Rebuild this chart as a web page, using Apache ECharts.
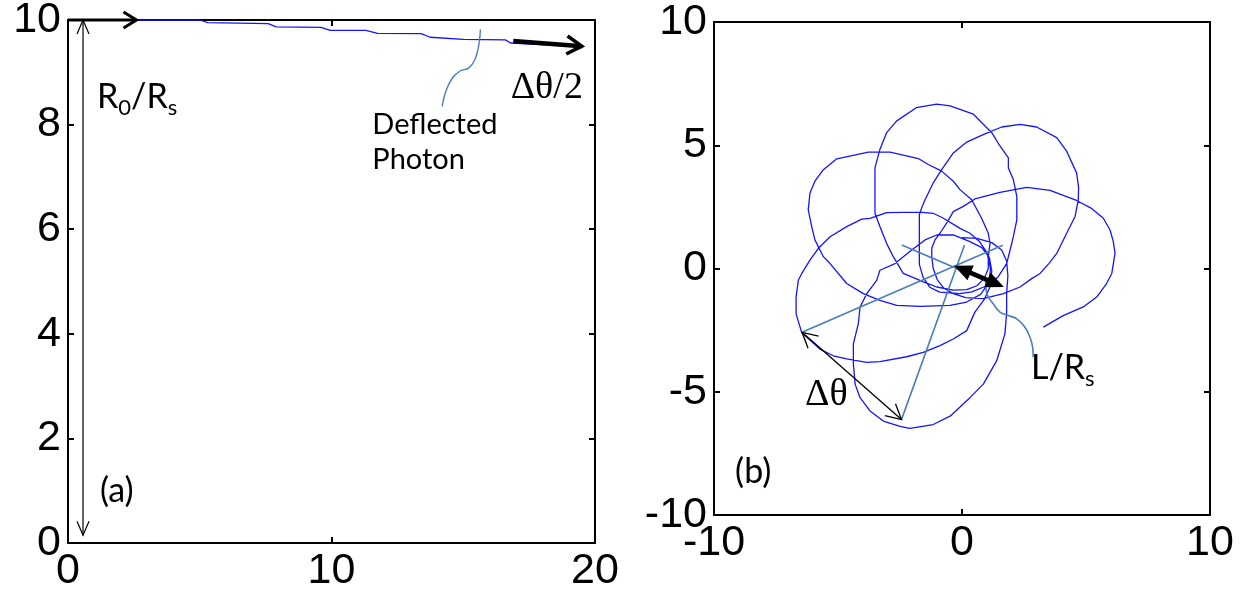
<!DOCTYPE html>
<html><head><meta charset="utf-8">
<script src="https://cdn.jsdelivr.net/npm/echarts@6/dist/echarts.min.js"></script>
<style>html,body{margin:0;padding:0;background:#fff}#c{width:1241px;height:606px}</style>
</head><body><div id="c"></div>
<script>
// ---------- DATA ----------
// Panel (a): tick values
const xTicksA = [0, 10, 20];
const yTicksA = [0, 2, 4, 6, 8, 10];
// Panel (a): deflected photon path
const photonX = [0, 5.0, 5.3, 7.6, 7.9, 9.6, 9.95, 11.3, 11.75, 13.4, 13.75, 15.0, 16.6, 16.8, 18.7];
const photonY = [10, 10, 9.95, 9.93, 9.87, 9.86, 9.80, 9.80, 9.745, 9.74, 9.67, 9.63, 9.62, 9.56, 9.51];
// Panel (a): leader line to "Deflected Photon"
const leaderAX = [15.65, 15.6, 15.45, 15.2, 14.9, 14.6, 14.35, 14.2];
const leaderAY = [9.82, 9.55, 9.25, 9.08, 9.03, 8.9, 8.65, 8.35];
// Panel (a): arrows [x1, y1, x2, y2]
const arrowIncoming = [0, 10, 2.6, 10];
const arrowOutgoing = [16.9, 9.60, 19.5, 9.50];
const arrowR0 = [0.57, 10, 0.57, 0.15];

// Panel (b): tick values
const xTicksB = [-10, 0, 10];
const yTicksB = [-10, -5, 0, 5, 10];
// Panel (b): precessing orbit (x, y) in units of Rs
const orbitPts = [
 [3.28,-2.38],[4.08,-1.91],[4.89,-1.56],[5.43,-1.16],[5.83,-0.61],[6.04,-0.20],[6.17,0.61],[6.10,1.10],[5.97,1.56],[5.70,2.04],[5.20,2.45],[4.62,2.76],[3.55,3.17],[2.61,3.29],[1.53,3.09],[0.52,2.82],[0.05,2.52],[-0.35,2.31],[-0.62,1.84],[-0.89,1.43],[-1.09,1.16],[-1.22,0.82],[-1.22,0.48],[-1.16,0.00],[-1.00,-0.45],[-0.75,-0.78],[-0.35,-1.02],[0.15,-1.18],
 [0.86,-1.22],[1.67,-1.02],[2.34,-0.75],[2.81,-0.41],[3.15,-0.20],[3.50,0.20],[3.82,0.61],[4.22,1.43],[4.56,2.11],[4.69,2.79],[4.70,3.30],[4.62,3.88],[4.22,4.76],[3.82,5.31],[3.01,5.74],[2.34,5.85],[1.60,5.74],[0.90,5.45],[0.19,5.13],[-0.35,4.69],[-0.82,4.01],[-1.16,3.47],[-1.49,2.79],[-1.63,2.45],[-1.72,2.18],[-1.72,1.60],[-1.72,1.02],[-1.72,0.17],[-1.57,-0.36],[-1.30,-0.76],[-0.90,-0.96],[-0.10,-1.02],[0.40,-0.95],[0.95,-0.72],[1.45,-0.35],
 [1.80,0.20],[1.94,0.75],[2.07,1.29],[2.21,1.97],[2.21,2.93],[2.07,3.61],[1.87,4.08],[1.87,4.49],[1.53,4.97],[1.20,5.51],[0.86,5.85],[0.46,6.26],[-0.48,6.60],[-1.02,6.67],[-1.83,6.53],[-2.63,5.99],[-3.04,5.51],[-3.31,4.83],[-3.51,4.08],[-3.51,3.20],[-3.51,2.24],[-3.31,1.70],[-3.04,1.02],[-2.77,0.48],[-2.37,-0.20],[-2.03,-0.34],[-1.56,-0.54],[-1.02,-0.75],[-0.35,-0.88],[0.19,-0.86],[0.60,-0.70],[0.90,-0.40],[1.06,0.00],
 [1.06,0.48],[1.13,1.02],[1.06,1.43],[0.79,2.04],[0.39,2.79],[-0.08,3.20],[-0.35,3.54],[-0.82,3.95],[-1.36,4.22],[-1.76,4.46],[-2.90,4.72],[-3.78,4.72],[-5.05,4.45],[-5.59,4.01],[-5.93,3.54],[-6.13,3.06],[-6.20,2.38],[-6.06,1.70],[-5.93,1.16],[-5.59,0.48],[-5.32,0.20],[-4.65,-0.61],[-3.98,-1.02],[-3.31,-1.29],[-2.63,-1.50],[-1.69,-1.54],[-0.48,-1.50],[0.19,-1.36],[0.75,-1.05],[1.10,-0.55],[1.15,0.00],
 [1.00,0.65],[0.70,1.10],[0.32,1.43],[-0.08,1.63],[-0.75,2.04],[-1.16,2.24],[-1.69,2.29],[-3.04,2.27],[-3.71,2.03],[-4.04,2.00],[-4.65,1.70],[-5.32,1.29],[-5.79,0.82],[-6.13,0.34],[-6.46,-0.20],[-6.60,-0.48],[-6.69,-1.16],[-6.69,-1.84],[-6.46,-2.61],[-5.73,-3.27],[-5.19,-3.54],[-4.65,-3.67],[-3.84,-3.81],[-3.31,-3.78],[-2.23,-3.58],[-1.56,-3.40],[-0.89,-3.13],[-0.35,-2.86],[0.19,-2.52],[0.52,-1.77],[0.90,-1.25],[1.15,-0.70],[1.20,-0.10],[1.10,0.45],[0.80,0.85],[0.32,1.09],
 [-0.35,1.36],[-1.02,1.36],[-1.49,1.16],[-2.03,0.75],[-2.70,0.20],[-3.31,-0.07],[-3.44,-0.48],[-3.84,-1.02],[-4.11,-1.56],[-4.18,-2.24],[-4.38,-3.06],[-4.38,-3.88],[-4.31,-4.69],[-4.11,-5.24],[-3.71,-5.78],[-3.17,-6.19],[-2.50,-6.40],[-2.10,-6.49],[-1.16,-6.33],[-0.48,-5.99],[0.32,-5.24],[0.86,-4.69],[1.40,-3.74],[1.73,-2.65],[1.80,-1.80],[1.80,-1.02],[1.85,-0.30],[1.80,0.30],[1.60,0.75],[1.20,1.05],[0.60,1.22],[0.00,1.25]
];
// Panel (b): construction lines (apsides) and leader
const apsisLine1 = [[-6.45,-2.59],[1.64,0.94]];
const apsisLine2 = [[-2.44,-6.13],[0.10,0.95]];
const apsisLine3 = [[-2.43,0.95],[0.95,-0.50]];
const leaderBX = [0.95, 1.0, 1.26, 1.53, 1.87, 2.21, 2.54, 2.74, 2.85, 2.87];
const leaderBY = [-0.5, -1.02, -1.43, -1.77, -1.91, -2.04, -2.38, -2.79, -3.20, -3.60];
// Panel (b): arrows [x1, y1, x2, y2]
const arrowDTheta = [-6.45, -2.59, -2.44, -6.13];
const arrowL = [-0.32, 0.11, 1.69, -0.75];

// Annotation anchor points (data coords)
const annotA = [
  {at:[1.10, 8.85], text:'{m|R}{s|0}{m|/R}{s|s}', kind:'sans'},
  {at:[16.8, 9.07], text:'{m|Δθ/2}', kind:'serif'},
  {at:[11.55, 8.27], text:'{m|Deflected}\n{m|Photon}', kind:'small'},
  {at:[1.21, 1.32], text:'{m|(a)}', kind:'sans'}
];
const annotB = [
  {at:[-9.15, -7.55], text:'{m|(b)}', kind:'sans'},
  {at:[-6.33, -4.38], text:'{m|Δθ}', kind:'serif'},
  {at:[2.78, -3.35], text:'{m|L/R}{s|s}', kind:'sans'}
];

// ---------- STYLES ----------
const BLUE = '#1414ff', STEEL = '#4a7ebb', BLACK = '#000';
const TICK_FONT = 'Liberation Sans';
const richStyles = {
  sans:  {m:{fontFamily:'Lato', fontSize:34, lineHeight:41, verticalAlign:'top', color:BLACK},
          s:{fontFamily:'Lato', fontSize:22, lineHeight:41, verticalAlign:'top', padding:[17,0,0,0], color:BLACK}},
  serif: {m:{fontFamily:'Liberation Serif', fontSize:38, lineHeight:42, verticalAlign:'top', color:BLACK}},
  small: {m:{fontFamily:'Lato', fontSize:29, lineHeight:35, verticalAlign:'top', color:BLACK}}
};

function axisPair(gridIndex, ticks, isX) {
  const base = {
    gridIndex, type:'value', min:ticks[0], max:ticks[ticks.length-1],
    interval:ticks[1]-ticks[0], splitLine:{show:false},
    axisLine:{show:true, onZero:false, lineStyle:{color:BLACK, width:2}},
    axisTick:{show:true, inside:true, length:6, lineStyle:{color:BLACK, width:2}}
  };
  const main = Object.assign({}, base, {
    position: isX ? 'bottom' : 'left',
    axisLabel:{show:true, color:BLACK, fontFamily:TICK_FONT, fontSize:43, margin:7}
  });
  const sec = Object.assign({}, base, {position: isX ? 'top' : 'right', axisLabel:{show:false}});
  return [main, sec];
}

function head(tip, ux, uy, len, hw, kind, lw) {
  const bx = tip[0]-ux*len, by = tip[1]-uy*len, nx = -uy, ny = ux;
  const pts = [[bx+nx*hw, by+ny*hw], tip, [bx-nx*hw, by-ny*hw]];
  if (kind === 'open') return {type:'polyline', shape:{points:pts}, style:{stroke:BLACK, lineWidth:lw, fill:null, lineJoin:'miter'}};
  return {type:'polygon', shape:{points:pts}, style:{fill:BLACK, stroke:null}};
}

function arrowSeries(xi, yi, defs) {
  return {
    type:'custom', xAxisIndex:xi, yAxisIndex:yi, silent:true, clip:false, z:5,
    data: defs.map(d => d.v),
    renderItem(params, api) {
      const d = defs[params.dataIndex], v = d.v;
      const p1 = api.coord([v[0], v[1]]), p2 = api.coord([v[2], v[3]]);
      const dx = p2[0]-p1[0], dy = p2[1]-p1[1], L = Math.hypot(dx, dy);
      const ux = dx/L, uy = dy/L;
      const children = [];
      let a = p1.slice(), b = p2.slice();
      if (d.kind === 'filled') {
        if (d.both) a = [p1[0]+ux*d.len*0.8, p1[1]+uy*d.len*0.8];
        b = [p2[0]-ux*d.len*0.8, p2[1]-uy*d.len*0.8];
      }
      children.push({type:'line', shape:{x1:a[0], y1:a[1], x2:b[0], y2:b[1]}, style:{stroke:BLACK, lineWidth:d.lw}});
      children.push(head(p2, ux, uy, d.len, d.hw, d.kind, d.hlw));
      if (d.both) children.push(head(p1, -ux, -uy, d.len, d.hw, d.kind, d.hlw));
      return {type:'group', children};
    }
  };
}

function textSeries(xi, yi, list) {
  return {
    type:'custom', xAxisIndex:xi, yAxisIndex:yi, silent:true, clip:false, z:6,
    data: list.map(t => t.at),
    renderItem(params, api) {
      const t = list[params.dataIndex];
      const p = api.coord(t.at);
      return {type:'text', x:p[0], y:p[1], style:{text:t.text, rich:richStyles[t.kind], align:'left', verticalAlign:'top'}};
    }
  };
}

const zip = (xs, ys) => xs.map((x, i) => [x, ys[i]]);

const [xA, xA2] = axisPair(0, xTicksA, true);
const [yA, yA2] = axisPair(0, yTicksA, false);
const [xB, xB2] = axisPair(1, xTicksB, true);
const [yB, yB2] = axisPair(1, yTicksB, false);

const chart = echarts.init(document.getElementById('c'), null, {renderer:'canvas'});
chart.setOption({
  animation:false,
  backgroundColor:'#fff',
  grid:[
    {left:68, top:20, width:527, height:523, containLabel:false, outerBoundsMode:'none'},
    {left:714, top:22, width:496, height:493, containLabel:false, outerBoundsMode:'none'}
  ],
  xAxis:[xA, xA2, xB, xB2],
  yAxis:[yA, yA2, yB, yB2],
  series:[
    {type:'line', xAxisIndex:0, yAxisIndex:0, data:zip(photonX, photonY), showSymbol:false, symbol:'none',
     lineStyle:{color:BLUE, width:1.3}, z:3},
    {type:'line', xAxisIndex:0, yAxisIndex:0, data:zip(leaderAX, leaderAY), showSymbol:false, symbol:'none', smooth:0.4,
     lineStyle:{color:STEEL, width:1.4}, z:3},
    arrowSeries(0, 0, [
      {v:arrowIncoming, kind:'open', lw:3, hlw:3, len:13, hw:8},
      {v:arrowOutgoing, kind:'open', lw:4.5, hlw:3.5, len:15, hw:9},
      {v:arrowR0, kind:'open', lw:1.2, hlw:1.2, len:14, hw:6, both:true}
    ]),
    textSeries(0, 0, annotA),
    {type:'line', xAxisIndex:2, yAxisIndex:2, data:orbitPts, showSymbol:false, symbol:'none',
     lineStyle:{color:BLUE, width:1.3}, z:3},
    {type:'line', xAxisIndex:2, yAxisIndex:2, data:apsisLine1, showSymbol:false, symbol:'none', lineStyle:{color:STEEL, width:1.6}, z:4},
    {type:'line', xAxisIndex:2, yAxisIndex:2, data:apsisLine2, showSymbol:false, symbol:'none', lineStyle:{color:STEEL, width:1.6}, z:4},
    {type:'line', xAxisIndex:2, yAxisIndex:2, data:apsisLine3, showSymbol:false, symbol:'none', lineStyle:{color:STEEL, width:1.6}, z:4},
    {type:'line', xAxisIndex:2, yAxisIndex:2, data:zip(leaderBX, leaderBY), showSymbol:false, symbol:'none', smooth:0.4,
     lineStyle:{color:STEEL, width:1.6}, z:4},
    arrowSeries(2, 2, [
      {v:arrowDTheta, kind:'open', lw:1.3, hlw:1.3, len:15, hw:8, both:true},
      {v:arrowL, kind:'filled', lw:4.5, hlw:1, len:18, hw:8, both:true}
    ]),
    textSeries(2, 2, annotB)
  ]
});
</script>
</body></html>
